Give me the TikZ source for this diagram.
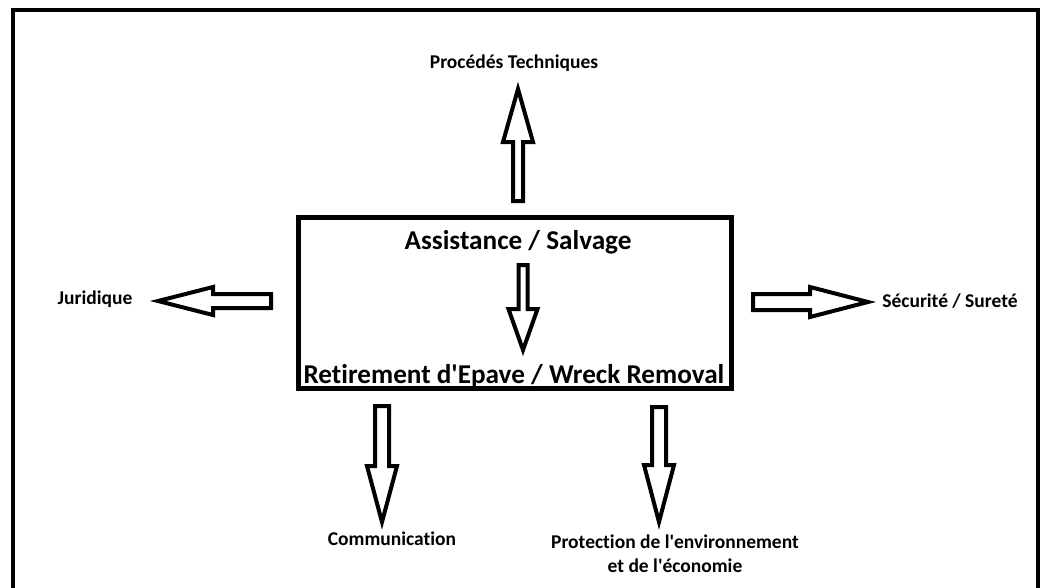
\documentclass[tikz,border=0pt]{standalone}
\usepackage{fontspec}
\setmainfont{Carlito}[Ligatures = {TeX, NoCommon}]
\usetikzlibrary{positioning}

\tikzset{
	fat/.style = {line width = 4pt, miter limit = 10},
	big/.style = {anchor = base, inner sep = 0pt, font = \fontsize{27.2}{32}\selectfont\bfseries},
	tag/.style = {anchor = base, inner sep = 0pt, font = \fontsize{19.5}{24}\selectfont\bfseries},
	core/.style = {draw, line width = 5pt, minimum width = 433pt, minimum height = 171pt},
	pics/fatarrow/.style n args = {4}{code = {
		\draw [fat] (0,#3) -- ({#1-#2},#3) -- ({#1-#2},#4) -- (#1,0) -- ({#1-#2},-#4) -- ({#1-#2},-#3) -- (0,-#3) -- cycle;
	}}
}

\begin{document}
\begin{tikzpicture}[x = 1pt, y = -1pt]
	\useasboundingbox (0,0) rectangle (1044,587);
	\clip (0,0) rectangle (1044,587);

	\draw [line width = 4pt] (13,600) -- (13,9.5) -- (1037.5,9.5) -- (1037.5,600);

	\begin{scope}
		\node [core] (core) at (514.5,302.5) {};
		\node [big] (salvage) at (518,249) {Assistance / Salvage};
		\node [big] (wreck) at (514,383) {Retirement d\textquotesingle Epave / Wreck Removal};
	\end{scope}

	\begin{scope}
		\node [tag] (technique) at (514,68) {Procédés Techniques};
		\node [tag] (juridique) at (95,304) {Juridique};
		\node [tag] (securite) at (950,307) {Sécurité / Sureté};
		\node [tag] (communication) at (392,545) {Communication};
		\node [tag, align = center] (protection) at (675,572) {Protection de l\textquotesingle environnement\\et de l\textquotesingle économie};
	\end{scope}

	\coordinate (upBase) at (518,201);
	\coordinate (innerBase) at (523,265);
	\coordinate (leftBase) at (271,301);
	\coordinate (rightBase) at (753,302);
	\coordinate (commBase) at (382,406);
	\coordinate (protBase) at (659,407);

	\begin{scope}
		\pic [rotate = 90] at (upBase) {fatarrow = {112}{53}{5}{15}};
		\pic [rotate = -90] at (innerBase) {fatarrow = {85}{41}{4.5}{14.5}};
		\pic [rotate = 180] at (leftBase) {fatarrow = {113}{55}{7}{14}};
		\pic at (rightBase) {fatarrow = {115}{58}{8}{15}};
		\pic [rotate = -90] at (commBase) {fatarrow = {116}{56}{7}{15}};
		\pic [rotate = -90] at (protBase) {fatarrow = {115}{57}{7}{15}};
	\end{scope}
\end{tikzpicture}
\end{document}
